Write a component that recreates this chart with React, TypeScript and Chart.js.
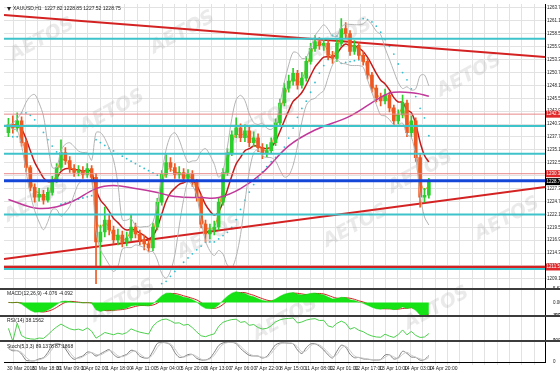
import React, { useEffect, useRef } from 'react';
import { Chart, registerables } from 'chart.js';
Chart.register(...registerables);

// ---- price data (3-hour aggregates of the H1 chart) ----
const firstOpen = 1238.6;
const closes = [
  1240.2, 1239.6, 1241.0, 1236.6, 1231.6, 1227.6, 1225.6, 1226.2, 1225.0, 1226.6,
  1229.0, 1231.6, 1234.6, 1233.0, 1231.4, 1230.6, 1231.0, 1230.2, 1231.4, 1229.6,
  1216.6, 1218.6, 1221.0, 1219.0, 1217.0, 1218.0, 1216.6, 1217.4, 1219.6, 1218.2,
  1217.0, 1216.2, 1215.4, 1219.6, 1224.6, 1230.2, 1232.6, 1231.6, 1230.2, 1230.6,
  1229.4, 1230.2, 1228.6, 1225.6, 1220.2, 1218.2, 1219.0, 1219.6, 1224.6, 1230.6,
  1234.6, 1238.2, 1239.6, 1237.6, 1239.0, 1236.6, 1237.6, 1235.6, 1234.6, 1235.0,
  1236.6, 1240.6, 1244.6, 1247.6, 1249.0, 1250.6, 1248.2, 1249.6, 1253.0, 1255.6,
  1257.0, 1256.2, 1256.6, 1254.2, 1253.6, 1256.6, 1259.6, 1258.6, 1255.0, 1256.2,
  1254.2, 1253.0, 1250.2, 1247.6, 1245.6, 1245.0, 1246.2, 1243.6, 1241.0, 1242.2,
  1244.6, 1238.6, 1241.0, 1233.6, 1225.6, 1226.0, 1228.8,
];
const highs = [
  1241.5, 1242.0, 1242.6, 1241.8, 1237.2, 1232.0, 1228.3, 1227.4, 1227.0, 1227.5,
  1229.8, 1232.4, 1237.2, 1235.6, 1233.8, 1232.2, 1232.0, 1231.8, 1232.4, 1232.0,
  1230.4, 1220.0, 1223.6, 1222.0, 1219.8, 1219.2, 1218.8, 1218.6, 1222.0, 1220.4,
  1219.0, 1218.0, 1217.0, 1220.4, 1225.4, 1231.0, 1234.2, 1233.6, 1232.4, 1231.8,
  1231.4, 1231.2, 1231.0, 1229.2, 1226.2, 1221.0, 1220.2, 1220.8, 1225.4, 1231.4,
  1235.4, 1239.0, 1241.6, 1240.4, 1240.2, 1239.8, 1238.8, 1238.4, 1236.4, 1236.2,
  1237.6, 1241.4, 1245.4, 1248.6, 1250.2, 1251.6, 1251.2, 1250.8, 1254.0, 1256.6,
  1258.2, 1257.8, 1257.6, 1257.2, 1255.0, 1257.4, 1261.6, 1260.8, 1259.2, 1257.2,
  1256.8, 1255.0, 1253.6, 1250.8, 1248.2, 1246.6, 1247.4, 1246.8, 1244.2, 1243.2,
  1246.2, 1245.2, 1242.0, 1241.6, 1234.2, 1227.4, 1229.4,
];
const lows = [
  1237.8, 1238.5, 1238.9, 1235.9, 1230.8, 1226.9, 1224.6, 1224.8, 1224.2, 1224.6,
  1226.0, 1228.6, 1231.0, 1232.2, 1230.6, 1229.8, 1229.9, 1229.4, 1229.6, 1228.8,
  1208.2, 1211.6, 1217.6, 1218.0, 1216.2, 1216.0, 1215.6, 1215.8, 1216.8, 1217.4,
  1216.0, 1215.0, 1214.6, 1214.8, 1219.0, 1224.0, 1229.6, 1230.8, 1229.4, 1229.4,
  1228.6, 1228.8, 1227.8, 1224.8, 1219.4, 1216.6, 1217.2, 1218.0, 1219.0, 1224.0,
  1230.0, 1234.0, 1237.6, 1236.8, 1236.8, 1235.8, 1235.8, 1234.8, 1233.4, 1233.8,
  1234.4, 1236.0, 1240.0, 1244.0, 1246.8, 1248.2, 1247.4, 1247.6, 1249.0, 1252.4,
  1255.0, 1255.4, 1255.2, 1253.4, 1252.6, 1253.0, 1256.0, 1257.6, 1254.2, 1254.4,
  1253.4, 1252.2, 1249.4, 1246.8, 1244.8, 1244.0, 1244.4, 1242.8, 1240.2, 1240.4,
  1241.6, 1237.8, 1237.8, 1232.8, 1223.6, 1224.6, 1225.4,
];

// slow (magenta) moving average, at candle indices
const slowMaIdx = [0, 7, 14, 20, 24, 29, 34, 38, 44, 48, 53, 58, 64, 70, 78, 85, 88, 93, 96];
const slowMaVals = [
  1225.15, 1223.35, 1224.55, 1227.35, 1227.95, 1227.35, 1226.55, 1225.75, 1225.55, 1225.55,
  1227.35, 1230.55, 1235.95, 1239.15, 1241.95, 1245.75, 1246.75, 1246.55, 1245.95,
];

// tick labels
const timeLabels = [
  '30 Mar 2016', '30 Mar 18:00', '31 Mar 09:00', '1 Apr 02:00', '1 Apr 18:00', '4 Apr 11:00',
  '5 Apr 04:00', '5 Apr 20:00', '6 Apr 13:00', '7 Apr 06:00', '7 Apr 22:00', '8 Apr 15:00',
  '11 Apr 08:00', '12 Apr 01:00', '12 Apr 17:00', '13 Apr 10:00', '14 Apr 03:00', '14 Apr 20:00',
];
const priceTicks = [
  1263.75, 1261.15, 1258.55, 1255.95, 1253.35, 1250.75, 1248.15, 1245.55, 1242.95, 1240.35,
  1237.75, 1235.15, 1232.55, 1229.95, 1227.35, 1224.75, 1222.15, 1219.55, 1216.95, 1214.35,
  1211.75, 1209.15,
];
const macdTicks = [5.627, 0, -5.394];
const oscTicks = [100, 0];

// horizontal levels and trend lines (bar index, price)
const cyanLevels = [1257.55, 1239.95, 1234.35, 1222.15, 1211.15];
const redThinLevels = [1242.35, 1230.35];
const redThickLevel = 1211.55;
const blueLevel = 1228.95;
const lastPrice = 1228.75;
const trendTopBars = [-2.04, 368.55];
const trendTopPrices = [1262.35, 1253.85];
const trendLowBars = [-2.04, 368.55];
const trendLowPrices = [1213.15, 1227.65];

const titleText = 'XAUUSD,H1  1227.82 1228.85 1227.52 1228.75';
const macdTitle = 'MACD(12,26,9) -4.076 -4.092';
const rsiTitle = 'RSI(14) 38.1562';
const stochTitle = 'Stoch(5,3,3) 89.1378 87.1868';

// ---- derived series ----
const opens = closes.map((c, i) => (i === 0 ? firstOpen : closes[i - 1]));
const barX = closes.map((_, i) => 3 * i + 1);

function sma(a: number[], n: number) {
  return a.map((_, i) => {
    const s = a.slice(Math.max(0, i - n + 1), i + 1);
    return s.reduce((p, q) => p + q, 0) / s.length;
  });
}
function ema(a: number[], n: number) {
  const k = 2 / (n + 1);
  let e = a[0];
  return a.map((v) => (e = e + k * (v - e)));
}
function bands(a: number[], n: number, m: number) {
  const mid = sma(a, n);
  const up: number[] = [];
  const lo: number[] = [];
  a.forEach((_, i) => {
    const s = a.slice(Math.max(0, i - n + 1), i + 1);
    const v = s.reduce((p, q) => p + (q - mid[i]) ** 2, 0) / s.length;
    up.push(mid[i] + m * Math.sqrt(v));
    lo.push(mid[i] - m * Math.sqrt(v));
  });
  return { up, lo };
}
function psar(h: number[], l: number[]) {
  const out: (number | null)[] = [null];
  let up = false, af = 0.02, ep = l[0], sar = h[0];
  for (let i = 1; i < h.length; i++) {
    sar = sar + af * (ep - sar);
    if (up) {
      sar = Math.min(sar, l[i - 1], l[Math.max(0, i - 2)]);
      if (l[i] < sar) { up = false; sar = ep; ep = l[i]; af = 0.02; }
      else if (h[i] > ep) { ep = h[i]; af = Math.min(af + 0.02, 0.2); }
    } else {
      sar = Math.max(sar, h[i - 1], h[Math.max(0, i - 2)]);
      if (h[i] > sar) { up = true; sar = ep; ep = h[i]; af = 0.02; }
      else if (l[i] < ep) { ep = l[i]; af = Math.min(af + 0.02, 0.2); }
    }
    out.push(sar);
  }
  return out;
}
function rsi(c: number[], n: number) {
  let ag = 0, al = 0;
  const out = [50];
  for (let i = 1; i < c.length; i++) {
    const ch = c[i] - c[i - 1];
    const g = Math.max(ch, 0), l = Math.max(-ch, 0);
    const d = Math.min(i, n);
    ag = (ag * (d - 1) + g) / d;
    al = (al * (d - 1) + l) / d;
    out.push(al === 0 ? 100 : 100 - 100 / (1 + ag / al));
  }
  return out;
}
function stoch(c: number[], h: number[], l: number[], n: number) {
  return c.map((v, i) => {
    const hh = Math.max(...h.slice(Math.max(0, i - n + 1), i + 1));
    const ll = Math.min(...l.slice(Math.max(0, i - n + 1), i + 1));
    return hh === ll ? 50 : ((v - ll) / (hh - ll)) * 100;
  });
}

const fastLine = ema(closes, 2);
const redMa = ema(closes, 7);
const bb = bands(closes, 7, 2);
const sar = psar(highs, lows);
const emaSlow = ema(closes, 9);
const macd = ema(closes, 4).map((v, i) => v - emaSlow[i]);
const macdSig = sma(macd, 3);
const rsiVals = rsi(closes, 5);
const stK = sma(stoch(closes, highs, lows, 3), 2);
const stD = sma(stK, 2);

const pts = (ys: (number | null)[]) => ys.map((y, i) => ({ x: barX[i], y }));
const bull = '#2ccf2c';
const bear = '#ee5a24';
const candleCol = closes.map((c, i) => (c >= opens[i] ? bull : bear));

const X_MIN = -2.04;
const X_MAX = 368.55;
const FONT = 'Liberation Sans';

const hLine = (v: number, color: string, w: number) => ({
  type: 'line' as const,
  yAxisID: 'y',
  data: [{ x: X_MIN, y: v }, { x: X_MAX, y: v }],
  borderColor: color,
  borderWidth: w,
  pointRadius: 0,
});

const overlay = {
  id: 'overlay',
  beforeDatasetsDraw(chart: any) {
    const { ctx, chartArea: a } = chart;
    ctx.save();
    ctx.beginPath();
    ctx.rect(a.left, a.top, a.right - a.left, a.bottom - a.top);
    ctx.clip();
    ctx.font = `italic bold 19px "DejaVu Sans"`;
    ctx.fillStyle = 'rgba(160,160,160,0.22)';
    ctx.textAlign = 'center';
    ctx.textBaseline = 'middle';
    const w = a.right - a.left, h = a.bottom - a.top;
    const spots = [
      [0.07, 0.1], [0.33, 0.08], [0.62, 0.1], [0.86, 0.2], [0.2, 0.3], [0.48, 0.33],
      [0.77, 0.47], [0.06, 0.55], [0.38, 0.65], [0.65, 0.62], [0.93, 0.6], [0.22, 0.83],
      [0.52, 0.88], [0.8, 0.85],
    ];
    spots.forEach(([fx, fy]) => {
      ctx.save();
      ctx.translate(a.left + fx * w, a.top + fy * h);
      ctx.rotate(-0.5);
      ctx.fillText('AETOS', 0, 0);
      ctx.restore();
    });
    ctx.restore();
  },
  afterDraw(chart: any) {
    const { ctx, chartArea: a, scales } = chart;
    ctx.save();
    // panel separators
    ctx.strokeStyle = '#3c3c3c';
    ctx.lineWidth = 2;
    ['y', 'yMacd', 'yRsi'].forEach((id) => {
      const yy = Math.round(scales[id].bottom);
      ctx.beginPath();
      ctx.moveTo(0, yy);
      ctx.lineTo(chart.width, yy);
      ctx.stroke();
    });
    // price boxes on the axis
    const box = (v: number, bg: string) => {
      const yy = scales.y.getPixelForValue(v);
      ctx.fillStyle = bg;
      ctx.fillRect(a.right + 1, yy - 3.5, chart.width - a.right - 1, 7);
      ctx.fillStyle = '#fff';
      ctx.font = `4.5px "${FONT}"`;
      ctx.textAlign = 'left';
      ctx.textBaseline = 'middle';
      ctx.fillText(v.toFixed(2), a.right + 1.5, yy);
    };
    redThinLevels.forEach((v) => box(v, '#e0282a'));
    box(redThickLevel, '#e0282a');
    box(lastPrice, '#000');
    // titles
    ctx.fillStyle = '#222';
    ctx.font = `5px "${FONT}"`;
    ctx.textAlign = 'left';
    ctx.textBaseline = 'middle';
    ctx.fillText(titleText, a.left + 9, a.top + 5);
    ctx.beginPath();
    ctx.moveTo(a.left + 3, a.top + 3);
    ctx.lineTo(a.left + 7, a.top + 3);
    ctx.lineTo(a.left + 5, a.top + 7);
    ctx.closePath();
    ctx.fill();
    ctx.fillText(macdTitle, a.left + 3, scales.yMacd.top + 5);
    ctx.fillText(rsiTitle, a.left + 3, scales.yRsi.top + 5);
    ctx.fillText(stochTitle, a.left + 3, scales.yStoch.top + 5);
    ctx.restore();
  },
};

const yCommon = (weight: number) => ({
  type: 'linear' as const,
  position: 'right' as const,
  stack: 'panels',
  stackWeight: weight,
  border: { color: '#000' },
  afterFit: (s: any) => { s.width = 15; },
});

export default function App() {
  const ref = useRef<HTMLCanvasElement>(null);
  useEffect(() => {
    const tickFont = { size: 5, family: FONT };
    const yFont = { size: 4.5, family: FONT };
    const chart = new Chart(ref.current as HTMLCanvasElement, {
      type: 'bar',
      data: {
        datasets: [
          ...cyanLevels.map((v) => hLine(v, '#3fc3cb', 2)),
          ...redThinLevels.map((v) => hLine(v, '#e88a8a', 1)),
          hLine(redThickLevel, '#d42222', 2.5),
          hLine(blueLevel, '#1446d8', 3),
          { type: 'line', yAxisID: 'y', data: pts(bb.up), borderColor: '#b4b4b4', borderWidth: 1, pointRadius: 0, tension: 0.3 },
          { type: 'line', yAxisID: 'y', data: pts(bb.lo), borderColor: '#b4b4b4', borderWidth: 1, pointRadius: 0, tension: 0.3 },
          { type: 'line', yAxisID: 'y', data: slowMaIdx.map((ci, k) => ({ x: barX[ci], y: slowMaVals[k] })), borderColor: '#c2379a', borderWidth: 1.5, pointRadius: 0, tension: 0.4 },
          { type: 'bar', yAxisID: 'y', data: closes.map((_, i) => ({ x: barX[i], y: [lows[i], highs[i]] })), backgroundColor: candleCol, barThickness: 1, grouped: false },
          { type: 'bar', yAxisID: 'y', data: closes.map((c, i) => ({ x: barX[i], y: [opens[i], c] })), backgroundColor: candleCol, barThickness: 3, minBarLength: 1, grouped: false },
          { type: 'line', yAxisID: 'y', data: pts(fastLine), borderColor: '#f0902a', borderWidth: 1, pointRadius: 0, tension: 0.3 },
          { type: 'line', yAxisID: 'y', data: pts(redMa), borderColor: '#c41c1c', borderWidth: 1.5, pointRadius: 0, tension: 0.3 },
          { type: 'line', yAxisID: 'y', data: trendTopBars.map((x, k) => ({ x, y: trendTopPrices[k] })), borderColor: '#d42222', borderWidth: 2, pointRadius: 0 },
          { type: 'line', yAxisID: 'y', data: trendLowBars.map((x, k) => ({ x, y: trendLowPrices[k] })), borderColor: '#d42222', borderWidth: 2, pointRadius: 0 },
          { type: 'line', yAxisID: 'y', data: pts(sar), showLine: false, pointRadius: 0.9, pointBorderWidth: 0, pointBackgroundColor: '#33bfd0' },
          { type: 'line', yAxisID: 'yMacd', data: pts(macd), borderColor: '#10d010', backgroundColor: '#16e316', borderWidth: 0.5, fill: 'origin', pointRadius: 0 },
          { type: 'line', yAxisID: 'yMacd', data: pts(macdSig), borderColor: '#d02020', borderWidth: 1, pointRadius: 0, tension: 0.3 },
          { type: 'line', yAxisID: 'yRsi', data: pts(rsiVals), borderColor: '#4ccf4c', borderWidth: 1, pointRadius: 0 },
          { type: 'line', yAxisID: 'yStoch', data: pts(stD), borderColor: '#c8c8c8', borderWidth: 1, pointRadius: 0, tension: 0.3 },
          { type: 'line', yAxisID: 'yStoch', data: pts(stK), borderColor: '#808080', borderWidth: 1, pointRadius: 0, tension: 0.3 },
        ] as any,
      },
      options: {
        responsive: false,
        animation: false,
        events: [],
        devicePixelRatio: 1,
        layout: { padding: 0 },
        plugins: { legend: { display: false }, tooltip: { enabled: false } },
        scales: {
          x: {
            type: 'linear',
            min: X_MIN,
            max: X_MAX,
            offset: false,
            afterBuildTicks: (s: any) => {
              s.ticks = Array.from({ length: 44 }, (_, j) => ({ value: 8.5 * j }));
            },
            ticks: {
              autoSkip: false,
              maxRotation: 0,
              align: 'start',
              font: tickFont,
              color: '#222',
              padding: 1,
              callback: (_v: any, idx: number) => (idx % 2 === 0 ? timeLabels[idx / 2] ?? '' : ''),
            },
            grid: { color: '#e2e2e2', tickLength: 3 },
            border: { color: '#000' },
            afterFit: (s: any) => { s.height = 11; },
          },
          y: {
            ...yCommon(288),
            min: 1207.15,
            max: 1264.55,
            afterBuildTicks: (s: any) => { s.ticks = priceTicks.map((value) => ({ value })); },
            ticks: { font: yFont, color: '#222', padding: 0, autoSkip: false, callback: (v: any) => Number(v).toFixed(2) },
            grid: { color: '#e2e2e2', tickLength: 2 },
          },
          yMacd: {
            ...yCommon(27),
            min: -5.394,
            max: 5.627,
            afterBuildTicks: (s: any) => { s.ticks = macdTicks.map((value) => ({ value })); },
            ticks: { font: yFont, color: '#222', padding: 0, autoSkip: false, callback: (v: any) => (v === 0 ? '0.00' : String(v)) },
            grid: { display: false },
          },
          yRsi: {
            ...yCommon(26),
            min: 0,
            max: 100,
            afterBuildTicks: (s: any) => { s.ticks = oscTicks.map((value) => ({ value })); },
            ticks: { font: yFont, color: '#222', padding: 0, autoSkip: false },
            grid: { display: false },
          },
          yStoch: {
            ...yCommon(21),
            min: 0,
            max: 100,
            afterBuildTicks: (s: any) => { s.ticks = oscTicks.map((value) => ({ value })); },
            ticks: { font: yFont, color: '#222', padding: 0, autoSkip: false },
            grid: { display: false },
          },
        },
      } as any,
      plugins: [overlay],
    });
    return () => chart.destroy();
  }, []);
  return (
    <div style={{ position: 'fixed', left: 0, top: 0, width: 560, height: 373, background: '#fff' }}>
      <canvas ref={ref} width={560} height={373} style={{ display: 'block', width: 560, height: 373 }} />
    </div>
  );
}
